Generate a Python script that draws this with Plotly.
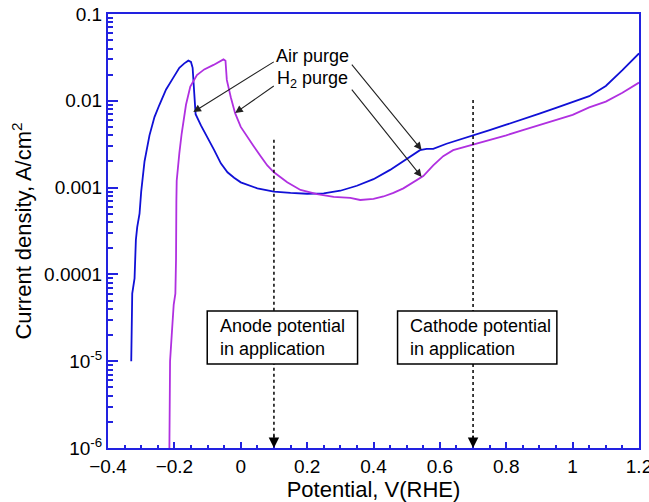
import plotly.graph_objects as go

# Polarization curves: current density vs potential
air_v = [-0.330, -0.329, -0.327, -0.320, -0.316, -0.312, -0.305, -0.300, -0.290,
         -0.275, -0.260, -0.245, -0.225, -0.205, -0.185, -0.170, -0.158, -0.150,
         -0.145, -0.140, -0.136, -0.120, -0.102, -0.080, -0.060, -0.040, -0.020,
         0.000, 0.050, 0.100, 0.150, 0.200, 0.250, 0.300, 0.350, 0.400, 0.450,
         0.500, 0.540, 0.560, 0.580, 0.620, 0.660, 0.700, 0.750, 0.800, 0.850,
         0.900, 0.950, 1.000, 1.050, 1.100, 1.150, 1.200]
air_i = [1.0e-5, 3.0e-5, 6.0e-5, 9.0e-5, 2.5e-4, 3.5e-4, 5.0e-4, 9.0e-4, 2.0e-3,
         4.0e-3, 6.5e-3, 9.0e-3, 0.0135, 0.018, 0.024, 0.027, 0.029, 0.028,
         0.024, 0.012, 0.0070, 0.0052, 0.0039, 0.0027, 0.0019, 0.0015, 0.0013,
         0.00115, 0.00098, 0.00090, 0.00087, 0.00085, 0.00086, 0.00092, 0.00105,
         0.00125, 0.00160, 0.00215, 0.0027, 0.0028, 0.0028, 0.0032, 0.0036,
         0.0040, 0.0046, 0.0053, 0.0061, 0.0071, 0.0083, 0.0097, 0.0113, 0.0148,
         0.0225, 0.0352]

h2_v = [-0.215, -0.213, -0.208, -0.202, -0.197, -0.195, -0.194, -0.193, -0.185,
        -0.178, -0.165, -0.152, -0.132, -0.110, -0.082, -0.062, -0.052, -0.046,
        -0.042, -0.030, -0.017, 0.000, 0.020, 0.039, 0.060, 0.080, 0.100, 0.140,
        0.180, 0.230, 0.280, 0.330, 0.360, 0.400, 0.430, 0.460, 0.490, 0.520,
        0.550, 0.580, 0.610, 0.640, 0.670, 0.700, 0.750, 0.800, 0.850, 0.900,
        0.950, 1.000, 1.050, 1.100, 1.150, 1.200]
h2_i = [1.0e-6, 1.0e-5, 2.0e-5, 4.5e-5, 6.0e-5, 1.5e-4, 7.0e-4, 1.2e-3, 2.5e-3,
        4.2e-3, 9.0e-3, 0.0146, 0.0198, 0.0230, 0.0259, 0.0285, 0.0300, 0.0290,
        0.0174, 0.011, 0.0072, 0.0050, 0.0038, 0.0030, 0.0023, 0.0018, 0.00150,
        0.00115, 0.00094, 0.00084, 0.00078, 0.00076, 0.00072, 0.00074, 0.00079,
        0.00087, 0.00098, 0.00115, 0.00136, 0.0018, 0.0023, 0.0027, 0.0029,
        0.0031, 0.0035, 0.0040, 0.0046, 0.0053, 0.0060, 0.0069, 0.0084, 0.0098,
        0.0124, 0.0162]

y_ticks = [1e-6, 1e-5, 1e-4, 1e-3, 1e-2, 1e-1]
y_ticktext = ["10<sup>-6</sup>", "10<sup>-5</sup>", "0.0001", "0.001", "0.01", "0.1"]

# Potentials marked as typical operating points
anode_v = 0.1
cathode_v = 0.7

FONT = "Arial, Liberation Sans, sans-serif"
AXIS_BLUE = "#2222e0"

fig = go.Figure()
fig.add_trace(go.Scatter(x=air_v, y=air_i, mode="lines", name="Air purge",
                         line=dict(color="#1010d6", width=1.8)))
fig.add_trace(go.Scatter(x=h2_v, y=h2_i, mode="lines", name="H2 purge",
                         line=dict(color="#b030e0", width=1.8)))

# dotted guide lines for the anode / cathode potentials
fig.add_trace(go.Scatter(x=[anode_v, anode_v], y=[10 ** -2.45, 1e-6], mode="lines",
                         line=dict(color="black", width=1.5, dash="dot"),
                         showlegend=False, hoverinfo="skip"))
fig.add_trace(go.Scatter(x=[cathode_v, cathode_v], y=[10 ** -1.99, 1e-6], mode="lines",
                         line=dict(color="black", width=1.5, dash="dot"),
                         showlegend=False, hoverinfo="skip"))

minor_vals = [k * 10 ** e for e in range(-6, -1) for k in range(2, 10)]

fig.update_xaxes(range=[-0.4, 1.2], dtick=0.2, tick0=-0.4, automargin=False,
                 ticklabeloverflow="allow",
                 showline=True, linecolor=AXIS_BLUE, linewidth=2, mirror=True,
                 ticks="inside", ticklen=6, tickwidth=1.5, tickcolor=AXIS_BLUE,
                 minor=dict(ticks="inside", dtick=0.05, ticklen=3.5, tickwidth=1.5,
                            tickcolor=AXIS_BLUE, showgrid=False),
                 showgrid=False, zeroline=False,
                 tickfont=dict(family=FONT, size=19, color="black"),
                 title=dict(text="Potential, V(RHE)", standoff=14,
                            font=dict(family=FONT, size=22, color="black")))
fig.update_yaxes(type="log", range=[-6, -1], automargin=False,
                 ticklabeloverflow="allow",
                 tickvals=y_ticks, ticktext=y_ticktext,
                 showline=True, linecolor=AXIS_BLUE, linewidth=2, mirror=True,
                 ticks="inside", ticklen=10, tickwidth=1.5, tickcolor=AXIS_BLUE,
                 minor=dict(ticks="inside", tickvals=minor_vals, ticklen=5,
                            tickwidth=1.5, tickcolor=AXIS_BLUE, showgrid=False),
                 showgrid=False, zeroline=False,
                 tickfont=dict(family=FONT, size=19, color="black"),
                 title=dict(text="Current density, A/cm<sup>2</sup>", standoff=6,
                            font=dict(family=FONT, size=22, color="black")))

ann = []
# labels of the two curves with leader arrows
ann.append(dict(x=0.217, y=-1.484, xref="x", yref="y", text="Air purge",
                showarrow=False, font=dict(family=FONT, size=18, color="black")))
ann.append(dict(x=0.217, y=-1.760, xref="x", yref="y", text="H<sub>2</sub> purge",
                showarrow=False, font=dict(family=FONT, size=18, color="black")))
arrows = [
    (-0.143, -2.129, 0.104, -1.541),
    (-0.017, -2.141, 0.104, -1.818),
    (0.545, -2.567, 0.331, -1.565),
    (0.545, -2.878, 0.331, -1.853),
]
for hx, hy, tx, ty in arrows:
    ann.append(dict(x=hx, y=hy, ax=tx, ay=ty, xref="x", yref="y", axref="x", ayref="y",
                    text="", showarrow=True, arrowhead=2, arrowsize=1.4,
                    arrowwidth=1.1, arrowcolor="#222222"))

# arrowheads at the foot of the dotted lines
for v in (anode_v, cathode_v):
    ann.append(dict(x=v, y=-6, xref="x", yref="y", ax=0, ay=-14, text="",
                    showarrow=True, arrowhead=2, arrowsize=1.5, arrowwidth=1.4,
                    arrowcolor="black"))

# boxed notes: white frames drawn above the traces, text on top
box_y = (10 ** -5.032, 10 ** -4.422)
boxes = [
    ((-0.101, 0.352), -0.068, "Anode potential<br>in application"),
    ((0.4725, 0.9525), 0.5026, "Cathode potential<br>in application"),
]
for (x0, x1), tx, label in boxes:
    fig.add_shape(type="rect", xref="x", yref="y", x0=x0, x1=x1,
                  y0=box_y[0], y1=box_y[1], layer="above",
                  fillcolor="white", line=dict(color="black", width=1.5))
    ann.append(dict(x=tx, y=-4.722, xref="x", yref="y", xanchor="left",
                    yanchor="middle", text=label, align="left", showarrow=False,
                    font=dict(family=FONT, size=18, color="black")))

fig.update_layout(width=649, height=502, margin=dict(l=108, r=10, t=14, b=54),
                  plot_bgcolor="white", paper_bgcolor="white", showlegend=False,
                  annotations=ann, font=dict(family=FONT))

fig.write_html("out.html")
